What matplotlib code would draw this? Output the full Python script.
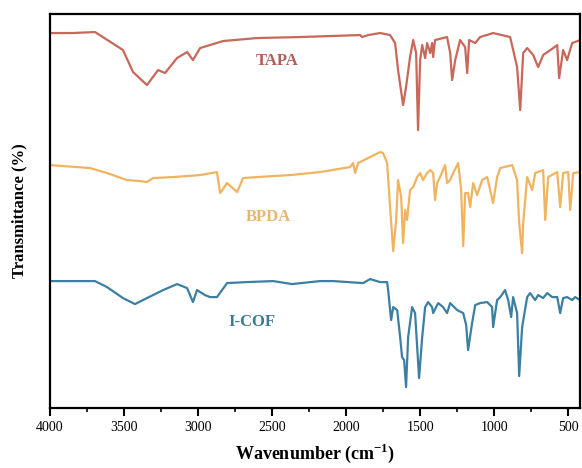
import numpy as np
import matplotlib
matplotlib.use('Agg')
import matplotlib.pyplot as plt
from matplotlib.ticker import MultipleLocator

plt.rcParams['font.family'] = ['Liberation Serif', 'DejaVu Serif']
plt.rcParams['mathtext.fontset'] = 'custom'
plt.rcParams['mathtext.rm'] = 'Liberation Serif'
plt.rcParams['mathtext.bf'] = 'Liberation Serif:bold'

# 数据：波数 (cm-1) 和 偏移后的透过率 (任意单位)
tapa_wn = [4000, 3850, 3696, 3507, 3439, 3345, 3270, 3223, 3142, 3074,
           3034, 2986, 2831, 2601, 2311, 1905, 1892, 1850, 1770, 1703,
           1669, 1649, 1615, 1595, 1568, 1547, 1527, 1514, 1500, 1486,
           1466, 1453, 1432, 1419, 1412, 1399, 1318, 1297, 1284, 1263,
           1230, 1196, 1182, 1169, 1128, 1095, 1007, 892, 845, 824,
           804, 777, 736, 703, 669, 601, 574, 561, 534, 507,
           473, 419]
tapa_t = [375, 375, 376, 358, 336, 323, 338, 335, 350, 356,
          348, 360, 367, 370, 371, 373, 371, 373, 375, 373,
          365, 338, 303, 321, 351, 368, 355, 278, 348, 363,
          350, 365, 355, 365, 351, 368, 371, 355, 328, 348,
          368, 361, 335, 368, 365, 371, 375, 371, 341, 298,
          355, 360, 353, 341, 353, 360, 363, 330, 358, 348,
          365, 368]

bpda_wn = [4000, 3730, 3615, 3480, 3392, 3345, 3304, 3169, 2986, 2872,
           2851, 2804, 2736, 2696, 2601, 2378, 2176, 1973, 1953, 1939,
           1919, 1770, 1750, 1723, 1703, 1682, 1662, 1649, 1628, 1615,
           1601, 1588, 1568, 1547, 1520, 1500, 1480, 1453, 1432, 1412,
           1399, 1385, 1365, 1331, 1318, 1297, 1277, 1243, 1223, 1209,
           1196, 1176, 1162, 1142, 1115, 1081, 1047, 1007, 980, 959,
           878, 845, 831, 811, 804, 777, 743, 723, 669, 655,
           635, 574, 554, 534, 500, 486, 466, 419]
bpda_t = [243, 240, 235, 228, 227, 226, 230, 231, 233, 236,
          215, 225, 216, 230, 231, 233, 236, 241, 245, 235,
          245, 256, 255, 245, 201, 157, 188, 228, 211, 165,
          198, 188, 218, 221, 231, 235, 228, 235, 238, 235,
          208, 225, 231, 243, 225, 228, 235, 245, 218, 162,
          215, 215, 201, 225, 213, 228, 231, 205, 231, 240,
          243, 228, 185, 155, 185, 231, 218, 235, 238, 188,
          231, 236, 201, 235, 236, 198, 235, 236]

icof_wn = [4000, 3696, 3615, 3507, 3426, 3345, 3236, 3142, 3074, 3034,
           3007, 2986, 2953, 2919, 2872, 2838, 2804, 2669, 2493, 2365,
           2176, 2088, 1885, 1838, 1770, 1723, 1716, 1696, 1682, 1655,
           1635, 1622, 1608, 1595, 1581, 1554, 1534, 1520, 1507, 1486,
           1466, 1446, 1419, 1412, 1378, 1345, 1318, 1297, 1250, 1209,
           1189, 1176, 1149, 1128, 1095, 1047, 1014, 1007, 980, 959,
           926, 905, 885, 872, 845, 831, 811, 777, 757, 723,
           703, 669, 642, 608, 574, 554, 534, 507, 473, 453,
           419]
icof_t = [127, 127, 121, 110, 104, 110, 118, 124, 120, 106,
          118, 116, 113, 111, 111, 118, 125, 126, 127, 124,
          127, 127, 125, 129, 126, 126, 118, 88, 101, 98,
          71, 51, 48, 21, 71, 101, 95, 61, 30, 71,
          101, 106, 101, 95, 105, 101, 95, 105, 98, 95,
          83, 58, 85, 103, 105, 106, 101, 81, 108, 111,
          118, 108, 91, 111, 95, 32, 81, 111, 115, 108,
          113, 110, 115, 111, 111, 95, 110, 111, 108, 111,
          108]

labels = ['TAPA', 'BPDA', 'I-COF']
colors = ['#c8675a', '#f0b460', '#3b7fa3']
text_colors = ['#b0605a', '#e4b670', '#3a7a95']
label_pos = [(2466, 347), (2527, 191), (2635, 86)]

fig = plt.figure(figsize=(5.82, 4.68), dpi=100)
ax = fig.add_axes([0.0859, 0.128, 0.9107, 0.842])

for wn, t, c in zip([tapa_wn, bpda_wn, icof_wn], [tapa_t, bpda_t, icof_t], colors):
    ax.plot(wn, t, color=c, lw=1.6)

for name, (px, py), c in zip(labels, label_pos, text_colors):
    ax.text(px, py, name, color=c, fontsize=12, fontweight='bold', ha='center', va='center')

ax.set_xlim(4000, 420)
ax.set_ylim(0, 394)
ax.xaxis.set_major_locator(MultipleLocator(500))
ax.xaxis.set_minor_locator(MultipleLocator(250))
ax.tick_params(axis='x', which='major', direction='out', length=6, width=1.5, labelsize=10, pad=3)
ax.tick_params(axis='x', which='minor', direction='out', length=3, width=1.2)
ax.set_yticks([])
for s in ax.spines.values():
    s.set_linewidth(1.6)

ax.set_xlabel(r'Wavenumber (cm$^{\mathbf{-1}}$)', fontsize=13, fontweight='bold', labelpad=6)
ax.set_ylabel('Transmittance (%)', fontsize=12, fontweight='bold', labelpad=16)

fig.savefig('out.png', dpi=100)
